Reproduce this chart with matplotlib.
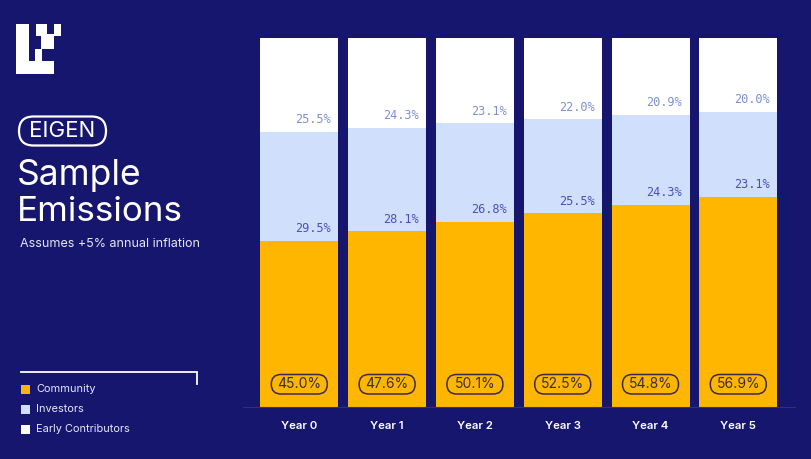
import matplotlib
matplotlib.use('Agg')
import matplotlib.pyplot as plt
from matplotlib.patches import FancyBboxPatch, Rectangle
import numpy as np

years = ['Year 0', 'Year 1', 'Year 2', 'Year 3', 'Year 4', 'Year 5']
community = [45.0, 47.6, 50.1, 52.5, 54.8, 56.9]
investors = [29.5, 28.1, 26.8, 25.5, 24.3, 23.1]
contributors = [25.5, 24.3, 23.1, 22.0, 20.9, 20.0]

legend_names = ['Community', 'Investors', 'Early Contributors']

NAVY = '#16166e'
GOLD = '#ffb600'
BLUE = '#d0dffc'
WHITE = '#ffffff'
W, H = 811, 459

plt.rcParams['font.family'] = ['Inter', 'DejaVu Sans']

fig = plt.figure(figsize=(W / 100, H / 100), dpi=100, facecolor=NAVY)

# overlay in pixel coordinates, for the left panel
bg = fig.add_axes([0, 0, 1, 1])
bg.set_xlim(0, W)
bg.set_ylim(H, 0)
bg.axis('off')

# chart axes, pixel box picked so that 0-100 runs from y=406.5 to y=38
left, right = 243, 795
top, bottom = 38, 406.5
ax = fig.add_axes([left / W, 1 - bottom / H, (right - left) / W, (bottom - top) / H])
ax.set_facecolor('none')
step = 87.8
x = np.arange(len(years))
ax.set_xlim((left - 299.3) / step, (right - 299.3) / step)
ax.set_ylim(0, 100)
bw = 78 / step

comm = np.array(community)
inv = np.array(investors)
con = np.array(contributors)
ax.bar(x, comm, bw, color=GOLD)
ax.bar(x, inv, bw, bottom=comm, color=BLUE)
ax.bar(x, con, bw, bottom=comm + inv, color=WHITE)

for i in x:
    ax.text(i + 0.36, comm[i] + 1.5, '%.1f%%' % inv[i], family='DejaVu Sans Mono', fontsize=8.6,
            color='#4a4fc0', ha='right', va='bottom')
    ax.text(i + 0.36, comm[i] + inv[i] + 1.5, '%.1f%%' % con[i], family='DejaVu Sans Mono', fontsize=8.6,
            color='#7f8fd0', ha='right', va='bottom')
    # pill around the community value
    cx = 299.3 + i * step
    bg.add_patch(FancyBboxPatch((cx - 28, 374.5), 56, 19.5, boxstyle='round,pad=0,rounding_size=9.7',
                                fc='none', ec='#3a2a50', lw=1.1, zorder=5))
    bg.text(cx, 384.5, '%.1f%%' % comm[i], fontsize=10, color='#3a2a50', ha='center', va='center', zorder=6)
bg.set_zorder(3)

ax.spines[['top', 'left', 'right']].set_visible(False)
ax.spines['bottom'].set_color('#2c2c98')
ax.spines['bottom'].set_linewidth(0.8)
ax.set_yticks([])
ax.set_xticks(x)
ax.set_xticklabels(years, fontsize=8.2, fontweight='semibold', color=WHITE)
ax.tick_params(axis='x', length=0, pad=10.5)

# logo
logo = [(16, 23.5, 13, 50.5), (16, 61, 38, 13), (36, 23.5, 10.5, 12.5), (41, 33.5, 13, 15),
        (35, 48.5, 7, 12.5), (54, 23.5, 7, 12)]
for lx, ly, lw, lh in logo:
    bg.add_patch(Rectangle((lx, ly), lw, lh, fc=WHITE, ec='none'))

# heading
bg.add_patch(FancyBboxPatch((19, 116.5), 87, 29, boxstyle='round,pad=0,rounding_size=14.5',
                            fc='none', ec=WHITE, lw=1.6))
bg.text(62.5, 131, 'EIGEN', fontsize=16, color=WHITE, ha='center', va='center')
bg.text(17, 175, 'Sample', fontsize=25.5, color=WHITE, ha='left', va='center')
bg.text(17, 212, 'Emissions', fontsize=25.2, color=WHITE, ha='left', va='center')
bg.text(20.5, 244, 'Assumes +5% annual inflation', fontsize=9, color='#e4e6f8', ha='left', va='center')

# legend with its bracket line
bg.plot([21, 197, 197], [371.5, 371.5, 384], color=WHITE, lw=1.3, solid_joinstyle='miter')
for name, col, ly in zip(legend_names, [GOLD, BLUE, WHITE], [389, 409.5, 429.5]):
    bg.add_patch(Rectangle((20.5, ly - 4.5), 9, 9, fc=col, ec='none'))
    bg.text(36, ly, name, fontsize=7.9, color='#e4e6f8', ha='left', va='center')

fig.savefig('out.png', dpi=100, facecolor=NAVY)
